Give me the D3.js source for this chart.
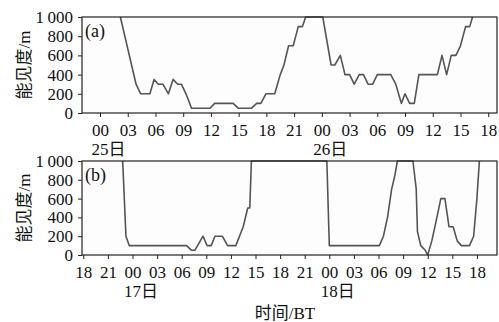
<!DOCTYPE html>
<html>
<head>
<meta charset="utf-8">
<script src="https://cdn.jsdelivr.net/npm/d3@7"></script>
<style>
  body { margin: 0; background: #fff; }
  svg text { font-family: "Liberation Serif", "Noto Sans CJK SC", serif; fill: #111; }
</style>
</head>
<body>
<svg id="chart" width="499" height="322"></svg>
<script>
// hours counted from 00 BT of the first labelled day (25th for a, 17th for b)
var aHours = [2.2, 3.9, 4.4, 5.4, 5.85, 6.3, 6.8, 7.4, 7.9, 8.4, 8.8, 9.3, 9.9, 11.9, 12.4, 14.4, 14.95, 16.4, 16.95, 17.4,
    17.95, 18.9, 19.5, 19.9, 20.4, 20.9, 21.45, 21.9, 22.25, 24.1, 25.0, 25.4, 26.0, 26.5, 27.0, 27.5, 28.05, 28.5, 29.0,
    29.5, 30.0, 31.45, 32.0, 32.6, 33.0, 33.5, 34.0, 34.5, 36.5, 37.0, 37.5, 38.0, 38.5, 39.0, 39.55, 40.0, 40.3]
var aVis = [1000, 300, 200, 200, 350, 300, 300, 200, 350, 300, 300, 200, 50, 50, 100, 100, 50, 50, 100, 100,
    200, 200, 400, 500, 700, 700, 900, 900, 1000, 1000, 500, 500, 600, 400, 400, 300, 400, 400, 300,
    300, 400, 400, 300, 100, 200, 100, 100, 400, 400, 600, 400, 600, 600, 700, 900, 900, 1000]

var bHours = [-1.2, -0.8, -0.4, 6.6, 7.2, 7.6, 8.6, 9.1, 9.6, 10.05, 10.95, 11.6, 12.6, 13.5, 14.05, 14.3, 14.5, 23.7,
    24.0, 30.1, 30.6, 31.1, 31.6, 32.0, 32.3, 34.2, 34.6, 34.75, 35.15, 35.7, 36.0, 36.5, 37.0, 37.6, 38.1, 38.6,
    39.1, 39.6, 40.1, 41.1, 41.6, 42.0, 42.3]
var bVis = [1000, 200, 100, 100, 50, 50, 200, 100, 100, 200, 200, 100, 100, 300, 500, 500, 1000, 1000,
    100, 100, 200, 400, 700, 850, 1000, 1000, 700, 250, 100, 50, 0, 150, 350, 600, 600, 300,
    300, 150, 100, 100, 200, 600, 1000]

var aTicks = d3.range(0, 43, 3)
var bTicks = d3.range(-6, 43, 3)
var aDays = [{h: 0, label: "25日"}, {h: 24, label: "26日"}]
var bDays = [{h: 0, label: "17日"}, {h: 24, label: "18日"}]
var yTicks = [0, 200, 400, 600, 800, 1000]

var svg = d3.select("#chart")

function fmtHour(h) {
    var v = ((h % 24) + 24) % 24
    return (v < 10 ? "0" : "") + v
}
function fmtVis(v) {
    return v >= 1000 ? "1\u2009000" : String(v)
}

function Panel(opt) {
    var x = d3.scaleLinear().domain(opt.domain).range([82, 497])
    var y = d3.scaleLinear().domain([0, 1000]).range([opt.bottom, opt.top])
    var g = svg.append("g")

    // plot background
    g.append("rect")
        .attr("x", 82).attr("y", opt.top)
        .attr("width", 497 - 82).attr("height", opt.bottom - opt.top)
        .attr("fill", "#fdfdfd")

    var xAxis = g.append("g")
        .attr("transform", "translate(0," + opt.bottom + ")")
        .call(d3.axisBottom(x).tickValues(opt.ticks).tickFormat(fmtHour).tickSize(4).tickPadding(5).tickSizeOuter(0))
    xAxis.select(".domain").remove()
    xAxis.selectAll("text").style("font-size", "17px").attr("dy", "0.85em")

    var yAxis = g.append("g")
        .attr("transform", "translate(82,0)")
        .call(d3.axisLeft(y).tickValues(yTicks).tickFormat(fmtVis).tickSize(4).tickPadding(5).tickSizeOuter(0))
    yAxis.select(".domain").remove()
    yAxis.selectAll("text").style("font-size", "17px")
    svg.selectAll(".tick line").attr("stroke", "#222")

    // day labels under the 00 ticks
    g.selectAll(".day").data(opt.days).enter().append("text")
        .attr("class", "day")
        .attr("x", function(d) { return x(d.h) - 8.5 })
        .attr("y", opt.bottom + 42)
        .style("font-size", "17px")
        .text(function(d) { return d.label })

    var line = d3.line()
        .x(function(d) { return x(d[0]) })
        .y(function(d) { return y(d[1]) })
    g.append("path")
        .datum(d3.zip(opt.hours, opt.vis))
        .attr("d", line)
        .attr("fill", "none")
        .attr("stroke", "#555")
        .attr("stroke-width", 1.6)
        .attr("stroke-linejoin", "round")

    // frame drawn over the line so the 1000 m stretches merge with it
    g.append("rect")
        .attr("x", 82).attr("y", opt.top)
        .attr("width", 497 - 82).attr("height", opt.bottom - opt.top)
        .attr("fill", "none").attr("stroke", "#222").attr("stroke-width", 1.2)

    // panel tag
    g.append("text")
        .attr("x", 85).attr("y", opt.top + 20)
        .style("font-size", "18px")
        .text(opt.tag)

    // y title
    g.append("text")
        .attr("transform", "translate(30," + ((opt.top + opt.bottom) / 2) + ") rotate(-90)")
        .attr("text-anchor", "middle")
        .style("font-size", "17px")
        .text("能见度/m")
}

Panel({tag: "(a)", top: 17, bottom: 113, domain: [-1.95, 42.95], ticks: aTicks, days: aDays, hours: aHours, vis: aVis})
Panel({tag: "(b)", top: 161, bottom: 255, domain: [-6.16, 44.45], ticks: bTicks, days: bDays, hours: bHours, vis: bVis})

svg.append("text")
    .attr("x", 285).attr("y", 319)
    .attr("text-anchor", "middle")
    .style("font-size", "17px")
    .text("时间/BT")
</script>
</body>
</html>
